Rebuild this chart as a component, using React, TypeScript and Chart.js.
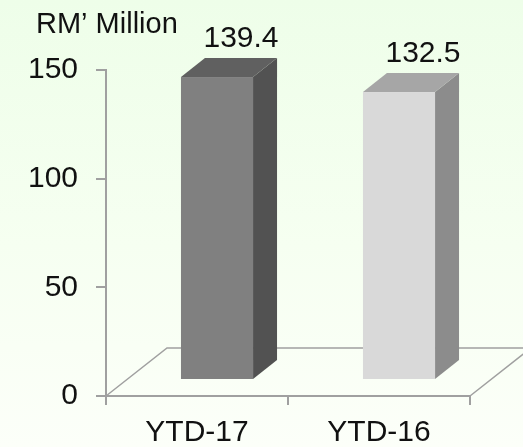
import React, { useEffect, useRef } from "react";
import { Chart, registerables } from "chart.js";

Chart.register(...registerables);

// Revenue, RM' Million
const categories = ["YTD-17", "YTD-16"];
const revenue = [139.4, 132.5];
const valueLabels = ["139.4", "132.5"];
const yTicks = [0, 50, 100, 150];
const unitLabel = "RM\u2019 Million";

const frontColors = ["#808080", "#d9d9d9"];
const topColors = ["#606060", "#a6a6a6"];
const sideColors = ["#525252", "#8c8c8c"];

const FONT = "'Liberation Sans', Arial, Helvetica, sans-serif";
const AXIS_GREY = "#a0a0a0";

// perspective offsets (px)
const FLOOR_DX = 61;
const FLOOR_DY = -48;
const BAR_SHIFT_X = 20;
const BAR_SHIFT_Y = -16;
const BAR_DX = 24;
const BAR_DY = -19;

const floorPlugin = {
  id: "floor3d",
  beforeDatasetsDraw(chart: any) {
    const { ctx, chartArea } = chart;
    const { left, right, bottom } = chartArea;
    ctx.save();
    ctx.strokeStyle = AXIS_GREY;
    ctx.lineWidth = 1.5;
    ctx.beginPath();
    ctx.moveTo(left, bottom);
    ctx.lineTo(left + FLOOR_DX, bottom + FLOOR_DY);
    ctx.lineTo(right + FLOOR_DX, bottom + FLOOR_DY);
    ctx.lineTo(right, bottom);
    ctx.stroke();
    ctx.restore();
  },
};

const boxPlugin = {
  id: "box3d",
  afterDatasetsDraw(chart: any) {
    const { ctx } = chart;
    const meta = chart.getDatasetMeta(0);
    ctx.save();
    meta.data.forEach((bar: any, i: number) => {
      const l = bar.x - bar.width / 2 + BAR_SHIFT_X;
      const r = bar.x + bar.width / 2 + BAR_SHIFT_X;
      const t = bar.y + BAR_SHIFT_Y;
      const b = bar.base + BAR_SHIFT_Y;

      // side face
      ctx.fillStyle = sideColors[i];
      ctx.beginPath();
      ctx.moveTo(r, t);
      ctx.lineTo(r + BAR_DX, t + BAR_DY);
      ctx.lineTo(r + BAR_DX, b + BAR_DY);
      ctx.lineTo(r, b);
      ctx.closePath();
      ctx.fill();

      // top face
      ctx.fillStyle = topColors[i];
      ctx.beginPath();
      ctx.moveTo(l, t);
      ctx.lineTo(l + BAR_DX, t + BAR_DY);
      ctx.lineTo(r + BAR_DX, t + BAR_DY);
      ctx.lineTo(r, t);
      ctx.closePath();
      ctx.fill();

      // front face
      ctx.fillStyle = frontColors[i];
      ctx.fillRect(l, t, r - l, b - t);

      // value label above the box
      ctx.fillStyle = "#111";
      ctx.font = `30px ${FONT}`;
      ctx.textAlign = "center";
      ctx.textBaseline = "alphabetic";
      ctx.fillText(valueLabels[i], (l + r) / 2 + BAR_DX, t + BAR_DY - 11);
    });

    // unit caption
    ctx.font = `29px ${FONT}`;
    ctx.textAlign = "left";
    ctx.fillText(unitLabel, 36, 33);
    ctx.restore();
  },
};

export default function App() {
  const canvasRef = useRef<HTMLCanvasElement | null>(null);

  useEffect(() => {
    document.body.style.margin = "0";
    const canvas = canvasRef.current;
    if (!canvas) return;
    const chart = new Chart(canvas, {
      type: "bar",
      data: {
        labels: categories,
        datasets: [
          {
            data: revenue,
            backgroundColor: "rgba(0,0,0,0)",
            borderWidth: 0,
            categoryPercentage: 1,
            barPercentage: 0.396,
          },
        ],
      },
      options: {
        responsive: false,
        animation: false,
        events: [],
        layout: { padding: { left: 0, right: 53, top: 70, bottom: 0 } },
        plugins: {
          legend: { display: false },
          tooltip: { enabled: false },
          title: { display: false },
        },
        scales: {
          x: {
            grid: {
              offset: true,
              drawOnChartArea: false,
              drawTicks: true,
              tickLength: 9,
              color: AXIS_GREY,
              lineWidth: 2,
            },
            border: { display: true, color: AXIS_GREY, width: 2 },
            ticks: {
              color: "#111",
              font: { family: FONT, size: 30 },
              padding: 10,
              maxRotation: 0,
            },
            afterFit(scale: any) {
              scale.height = 51;
            },
          },
          y: {
            min: 0,
            max: 150,
            afterBuildTicks(scale: any) {
              scale.ticks = yTicks.map((v) => ({ value: v }));
            },
            grid: {
              drawOnChartArea: false,
              drawTicks: true,
              tickLength: 10,
              color: AXIS_GREY,
              lineWidth: 2,
            },
            border: { display: true, color: AXIS_GREY, width: 2 },
            ticks: {
              color: "#111",
              font: { family: FONT, size: 30 },
              padding: 18,
            },
            afterFit(scale: any) {
              scale.width = 106;
            },
          },
        },
      },
      plugins: [floorPlugin, boxPlugin],
    });
    return () => chart.destroy();
  }, []);

  return (
    <div
      style={{
        position: "fixed",
        left: 0,
        top: 0,
        width: 523,
        height: 447,
        background: "linear-gradient(to bottom, #eefee9 0%, #f6fff1 55%, #fcfff9 100%)",
      }}
    >
      <canvas ref={canvasRef} width={523} height={447} style={{ display: "block" }} />
    </div>
  );
}
